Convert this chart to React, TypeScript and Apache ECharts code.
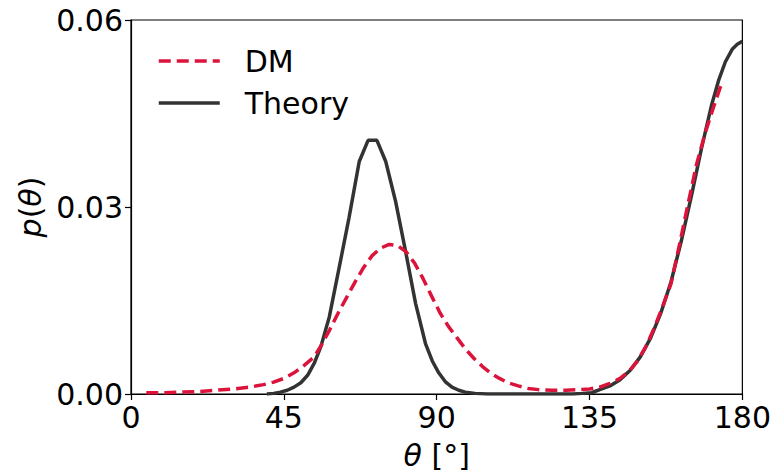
import React, { useEffect, useRef } from "react";
import * as echarts from "echarts";

const thetaDM = [4.5, 10, 15, 20, 25, 30, 35, 39, 42, 45, 48, 51, 54, 56, 58.5, 61, 63.5, 66, 68.5, 71, 73.5, 76, 78.5, 81, 83.5, 86, 88.5, 91, 93.5, 96, 98.5, 101, 103.5, 106, 108.5, 111, 114, 117, 120, 124, 128, 132, 135, 138, 141, 144, 146.5, 149, 151.5, 154, 156.5, 159, 161.5, 164, 166.5, 169, 171.5, 173.6];
const pDM = [0.0002, 0.0002, 0.0003, 0.0004, 0.0006, 0.0008, 0.0011, 0.0015, 0.0019, 0.0025, 0.0034, 0.0046, 0.006, 0.0078, 0.0103, 0.013, 0.0155, 0.018, 0.0203, 0.0222, 0.0234, 0.024, 0.0238, 0.0228, 0.021, 0.0185, 0.0157, 0.013, 0.0108, 0.009, 0.0072, 0.0057, 0.0044, 0.0033, 0.0025, 0.0018, 0.0013, 0.0009, 0.0007, 0.0006, 0.0006, 0.0007, 0.0008, 0.0011, 0.0017, 0.0025, 0.0036, 0.0052, 0.0075, 0.0105, 0.014, 0.0177, 0.024, 0.0305, 0.0368, 0.0418, 0.046, 0.0494];

const thetaTheory = [40, 42, 44, 46, 48, 50, 52, 54, 55.9, 58.4, 61.3, 64.2, 67.2, 69.8, 72.4, 75, 77.9, 80.8, 83.8, 86.7, 88.7, 90.6, 92.5, 94.5, 96.5, 98.4, 101.3, 105, 110, 115, 120, 125, 130, 133, 135.6, 138, 141, 144, 147, 150, 153, 156, 159, 162, 165, 168, 171, 173, 175, 177, 178.5, 180];
const pTheory = [0.0, 0.0001, 0.0003, 0.0006, 0.0011, 0.0018, 0.003, 0.005, 0.0076, 0.0124, 0.0203, 0.0283, 0.0373, 0.0407, 0.0407, 0.0373, 0.0309, 0.023, 0.0145, 0.0081, 0.0053, 0.0034, 0.002, 0.0011, 0.0006, 0.0003, 0.0001, 0.0, 0.0, 0.0, 0.0, 0.0, 0.0, 0.0001, 0.0002, 0.0007, 0.0013, 0.0023, 0.0038, 0.006, 0.009, 0.013, 0.018, 0.0245, 0.0318, 0.0395, 0.0465, 0.0503, 0.0533, 0.0553, 0.0561, 0.0566];

const xTicks = [0, 45, 90, 135, 180];
const yTicks = [0, 0.03, 0.06];

const FONT = "DejaVu Sans";
const FS = 30;

export default function App() {
  const ref = useRef<HTMLDivElement>(null);
  useEffect(() => {
    if (!ref.current) return;
    const chart = echarts.init(ref.current, undefined, { renderer: "svg" });
    chart.setOption({
      animation: false,
      textStyle: { fontFamily: FONT },
      grid: {
        left: 131,
        right: 29,
        top: 20,
        bottom: 77,
        show: true,
        borderColor: "#000",
        borderWidth: 1.2,
        backgroundColor: "transparent",
      },
      legend: {
        orient: "vertical",
        left: 152,
        top: 39,
        itemWidth: 61,
        itemHeight: 14,
        itemGap: 8,
        itemStyle: { opacity: 0 },
        lineStyle: { width: 3.5 },
        textStyle: {
          fontFamily: FONT,
          fontSize: FS,
          color: "#000",
          lineHeight: 34,
          padding: [0, 0, 0, 20],
        },
        data: ["DM", "Theory"],
      },
      xAxis: {
        type: "value",
        min: xTicks[0],
        max: xTicks[xTicks.length - 1],
        interval: 45,
        name: "{i|θ} [°]",
        nameLocation: "middle",
        nameGap: 46,
        nameTextStyle: {
          fontFamily: FONT,
          fontSize: FS,
          color: "#000",
          rich: { i: { fontStyle: "italic", fontFamily: FONT, fontSize: FS, color: "#000" } },
        },
        axisLine: { show: true, lineStyle: { color: "#000", width: 1.2 } },
        axisTick: { show: true, inside: false, length: 6, lineStyle: { color: "#000", width: 1.2 } },
        axisLabel: { fontFamily: FONT, fontSize: FS, color: "#000", margin: 8 },
        splitLine: { show: false },
      },
      yAxis: {
        type: "value",
        min: yTicks[0],
        max: yTicks[yTicks.length - 1],
        interval: 0.03,
        name: "{i|p}({i|θ})",
        nameLocation: "middle",
        nameGap: 86,
        nameTextStyle: {
          fontFamily: FONT,
          fontSize: FS,
          color: "#000",
          rich: { i: { fontStyle: "italic", fontFamily: FONT, fontSize: FS, color: "#000" } },
        },
        axisLine: { show: true, lineStyle: { color: "#000", width: 1.2 } },
        axisTick: { show: true, inside: false, length: 6, lineStyle: { color: "#000", width: 1.2 } },
        axisLabel: {
          fontFamily: FONT,
          fontSize: FS,
          color: "#000",
          margin: 8,
          formatter: (v: number) => v.toFixed(2),
        },
        splitLine: { show: false },
      },
      series: [
        {
          name: "DM",
          type: "line",
          symbol: "none",
          showSymbol: false,
          z: 3,
          data: thetaDM.map((t, i) => [t, pDM[i]]),
          lineStyle: { color: "#DC143C", width: 3.5, type: [12, 6] },
          itemStyle: { color: "#DC143C" },
        },
        {
          name: "Theory",
          type: "line",
          symbol: "none",
          showSymbol: false,
          z: 2,
          data: thetaTheory.map((t, i) => [t, pTheory[i]]),
          lineStyle: { color: "#333333", width: 3.5 },
          itemStyle: { color: "#333333" },
        },
      ],
    });
    return () => chart.dispose();
  }, []);
  return <div ref={ref} style={{ width: 774, height: 475, position: "absolute", left: 0, top: 0 }} />;
}
